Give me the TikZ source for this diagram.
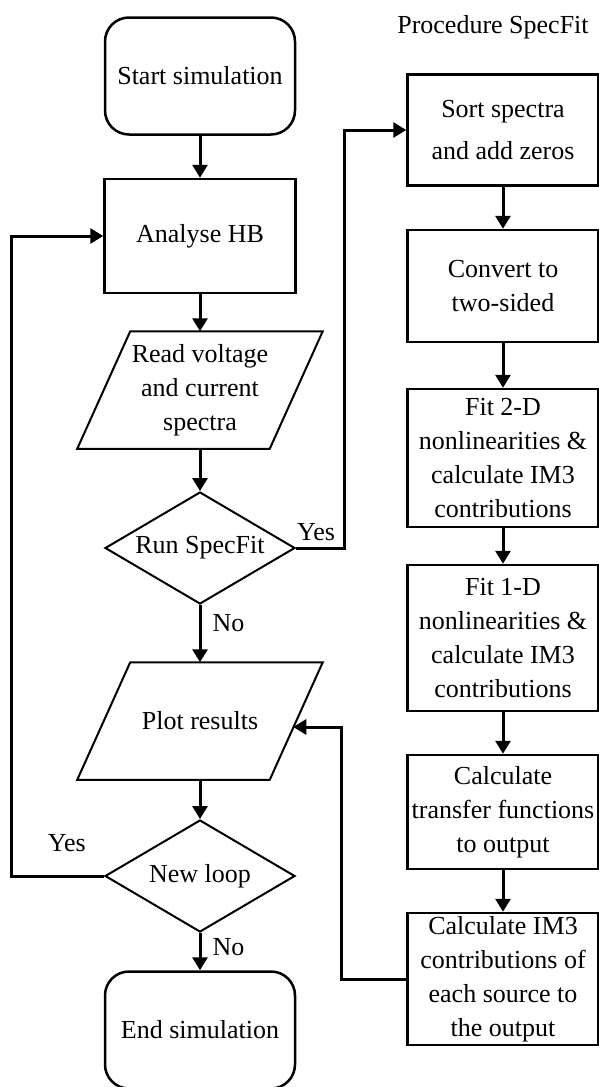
\documentclass[tikz,border=0pt]{standalone}
\usepackage{fontspec}
\setmainfont{Liberation Serif}
\usetikzlibrary{shapes.geometric}
\usetikzlibrary{arrows.meta}
\usetikzlibrary{positioning}

\tikzset{
  base/.style={draw, line width=2.5pt, align=center, font=\fontsize{26}{34}\selectfont},
  terminal/.style={base, rectangle, rounded corners=24pt, minimum width=190pt, minimum height=117pt},
  process/.style={base, rectangle, minimum width=191pt, minimum height=114pt, inner sep=1pt},
  io/.style={base, draw=none, rectangle, minimum width=190pt, minimum height=115pt, inner sep=2pt},
  decision/.style={base, line width=2pt, diamond, aspect=1.7, minimum width=190pt, minimum height=112pt, inner sep=0pt},
  flow/.style={line width=3pt, -{Triangle[length=13pt,width=15pt]}},
  tag/.style={font=\fontsize{26}{30}\selectfont, inner sep=1pt}
}
% slanted outline round an io node
\newcommand{\ioframe}[1]{%
  \draw[line width=2pt] ([xshift=-26.5pt]#1.south west) -- ([xshift=-26.5pt]#1.south east)
    -- ([xshift=26.5pt]#1.north east) -- ([xshift=26.5pt]#1.north west) -- cycle;}

\begin{document}
\begin{tikzpicture}[x=1pt, y=1pt, node distance=160pt]
  \useasboundingbox (0,0) rectangle (599,-1087);
  % main loop
  \node[terminal] (start) at (200,-76) {Start simulation};
  \node[process] (hb) [below of=start] {Analyse HB};
  \node[io] (read) [node distance=154pt, below of=hb] {Read voltage\\and current\\spectra};
  \node[decision] (run) [node distance=158pt, below of=read] {Run SpecFit};
  \node[io] (plot) [node distance=173pt, below of=run] {Plot results};
  \node[decision] (loop) [node distance=155pt, below of=plot] {New loop};
  \node[terminal] (stop) [node distance=154pt, below of=loop] {End simulation};
  \ioframe{read}
  \ioframe{plot}
  % procedure SpecFit
  \node[tag] (title) at (493,-27) {Procedure SpecFit};
  \node[process, minimum height=111pt] (sort) at (503,-130) {Sort spectra\\[8pt]and add zeros};
  \node[process, minimum height=112pt] (conv) [node distance=156pt, below of=sort] {Convert to\\two-sided};
  \node[process, minimum height=138pt] (fit2) [node distance=172pt, below of=conv] {Fit 2-D\\nonlinearities \&\\calculate IM3\\contributions};
  \node[process, minimum height=146pt] (fit1) [node distance=180pt, below of=fit2] {Fit 1-D\\nonlinearities \&\\calculate IM3\\contributions};
  \node[process, minimum height=114pt] (xfer) [node distance=174pt, below of=fit1] {Calculate\\transfer functions\\to output};
  \node[process, minimum height=132pt] (im3) [node distance=167pt, below of=xfer] {Calculate IM3\\contributions of\\each source to\\the output};

  \draw [flow] (start) -- (hb);
  \draw [flow] (hb) -- (read);
  \draw [flow] (read) -- (run);
  \draw [flow] (run) -- node[tag, pos=0.31, right=10pt] {No} (plot);
  \draw [flow] (plot) -- (loop);
  \draw [flow] (loop) -- node[tag, pos=0.37, right=10pt] {No} (stop);
  \draw [flow] (run.east) -- ++(48,0) |- (sort.west);
  \node[tag, above right, yshift=6pt] at (run.east) {Yes};
  \draw [flow] (loop.west) -- node[tag, pos=0.4, above=22pt] {Yes} ++(-93,0) |- (hb.west);

  \draw [flow] (sort) -- (conv);
  \draw [flow] (conv) -- (fit2);
  \draw [flow] (fit2) -- (fit1);
  \draw [flow] (fit1) -- (xfer);
  \draw [flow] (xfer) -- (im3);
  \draw [flow] (im3.west) -- ++(-65,0) |- ([xshift=-3pt,yshift=-6pt]plot.east);
\end{tikzpicture}
\end{document}
